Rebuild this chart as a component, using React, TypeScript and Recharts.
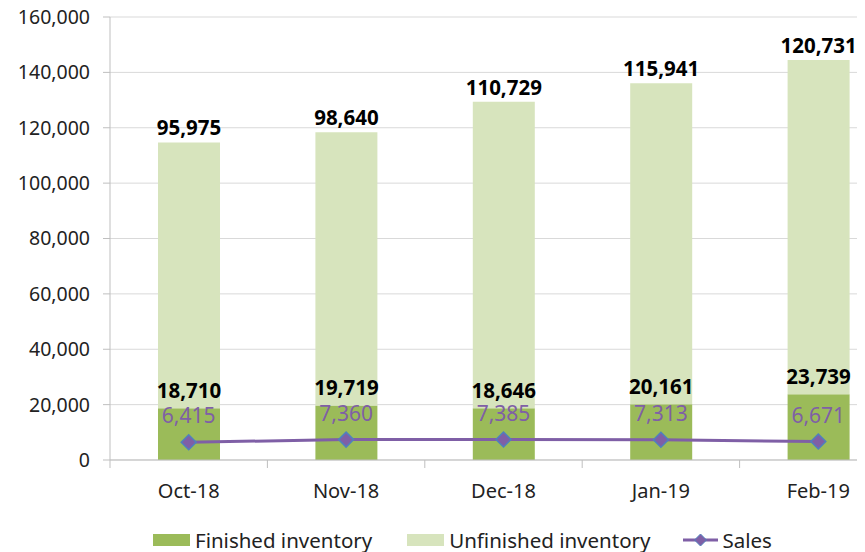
import React from 'react';
import {
  ComposedChart, Bar, Line, XAxis, YAxis, CartesianGrid, Legend, LabelList
} from 'recharts';

const months = ['Oct-18', 'Nov-18', 'Dec-18', 'Jan-19', 'Feb-19'];
const finished = [18710, 19719, 18646, 20161, 23739];
const unfinished = [95975, 98640, 110729, 115941, 120731];
const sales = [6415, 7360, 7385, 7313, 6671];
const yTicks = [0, 20000, 40000, 60000, 80000, 100000, 120000, 140000, 160000];

const DARK = '#9bbb59';
const LIGHT = '#d7e4bd';
const PURPLE = '#7f5fa6';
const FONT = '"Noto Sans", sans-serif';

const CHART_W = 900;
const Y_AXIS_W = 110;
const BAND = (CHART_W - 3 - Y_AXIS_W) / months.length;

const data = months.map((m, i) => ({
  month: m,
  finished: finished[i],
  unfinished: unfinished[i],
  sales: sales[i],
}));

const fmt = (v: any) => Number(v).toLocaleString('en-US');

const Diamond = (props: any) => {
  const { cx, cy } = props;
  if (cx == null || cy == null) return null;
  const r = 7.5;
  return (
    <polygon
      points={`${cx},${cy - r} ${cx + r},${cy} ${cx},${cy + r} ${cx - r},${cy}`}
      fill={PURPLE}
      stroke="#4f81bd"
      strokeWidth={1.5}
    />
  );
};

const MonthTick = (props: any) => {
  const { x, y, payload, index } = props;
  const top = y - 16 - 8;
  return (
    <g>
      <line x1={x - BAND / 2} y1={top} x2={x - BAND / 2} y2={top + 8} stroke="#bfbfbf" />
      {index === months.length - 1 && (
        <line x1={x + BAND / 2} y1={top} x2={x + BAND / 2} y2={top + 8} stroke="#bfbfbf" />
      )}
      <text x={x} y={y} dy="0.71em" textAnchor="middle" fontSize={20} fill="#222">
        {payload.value}
      </text>
    </g>
  );
};

const LegendBox = () => (
  <div style={{ height: 52, paddingTop: 28, boxSizing: 'border-box', display: 'flex', alignItems: 'center', fontSize: 20.5, color: '#222', marginLeft: 153 }}>
    <span style={{ display: 'inline-block', width: 37, height: 12, background: DARK, marginRight: 5 }} />
    <span style={{ marginRight: 35 }}>Finished inventory</span>
    <span style={{ display: 'inline-block', width: 37, height: 12, background: LIGHT, marginRight: 5 }} />
    <span style={{ marginRight: 33 }}>Unfinished inventory</span>
    <svg width={35} height={14} style={{ marginRight: 4 }}>
      <line x1={0} y1={7} x2={35} y2={7} stroke={PURPLE} strokeWidth={3} />
      <polygon points="17.5,1 23.5,7 17.5,13 11.5,7" fill={PURPLE} stroke="#4f81bd" strokeWidth={1} />
    </svg>
    <span>Sales</span>
  </div>
);

export default function App() {
  return (
    <div style={{ position: 'relative', width: 865, height: 552, overflow: 'hidden', margin: '-8px -8px 0 -8px', background: '#fff', fontFamily: FONT }}>
      <ComposedChart
        width={CHART_W}
        height={552}
        data={data}
        margin={{ top: 17, right: 3, left: 0, bottom: 0 }}
      >
        <CartesianGrid vertical={false} stroke="#d9d9d9" />
        <XAxis
          dataKey="month"
          height={40}
          axisLine={{ stroke: '#bfbfbf' }}
          tickLine={false}
          tickSize={8}
          tickMargin={16}
          tick={<MonthTick />}
          interval={0}
        />
        <YAxis
          width={Y_AXIS_W}
          domain={[0, 160000]}
          ticks={yTicks}
          tickFormatter={fmt}
          axisLine={{ stroke: '#bfbfbf' }}
          tickLine={{ stroke: '#bfbfbf' }}
          tickSize={7}
          tickMargin={13}
          tick={{ fontSize: 19.5, fill: '#222' }}
        />
        <Legend verticalAlign="bottom" content={<LegendBox />} wrapperStyle={{ height: 52 }} />
        <Bar dataKey="finished" stackId="inv" fill={DARK} barSize={62} isAnimationActive={false} />
        <Bar dataKey="unfinished" stackId="inv" fill={LIGHT} barSize={62} isAnimationActive={false}>
          <LabelList dataKey="unfinished" position="top" offset={7} formatter={fmt} fill="#000" fontSize={20.5} fontWeight="bold" />
          <LabelList dataKey="finished" position="insideBottom" offset={10} formatter={fmt} fill="#000" fontSize={20.5} fontWeight="bold" />
        </Bar>
        <Line
          dataKey="sales"
          stroke={PURPLE}
          strokeWidth={3}
          dot={<Diamond />}
          activeDot={false}
          isAnimationActive={false}
        >
          <LabelList dataKey="sales" position="top" offset={19} formatter={fmt} fill={PURPLE} fontSize={21} />
        </Line>
      </ComposedChart>
    </div>
  );
}
